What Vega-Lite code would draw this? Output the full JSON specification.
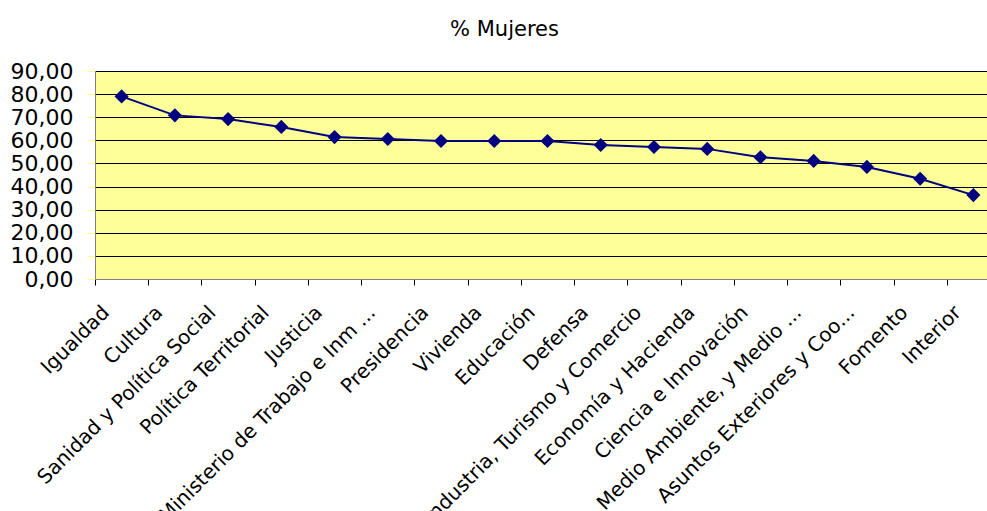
{
  "$schema": "https://vega.github.io/schema/vega-lite/v6.json",
  "autosize": {"type": "none"},
  "padding": {"left": 95, "top": 71, "right": 0, "bottom": 232},
  "width": 893,
  "height": 208,
  "background": "white",
  "title": {
    "text": "% Mujeres",
    "font": "DejaVu Sans",
    "fontSize": 21,
    "fontWeight": "normal",
    "color": "black",
    "anchor": "middle",
    "baseline": "alphabetic",
    "offset": 3,
    "dx": -37
  },
  "config": {
    "view": {"fill": "#FFFF99", "stroke": "#808080", "strokeWidth": 1},
    "axis": {"labelFont": "DejaVu Sans", "labelColor": "black"}
  },
  "data": {
    "values": [
      {"ministerio": "Igualdad", "pct": 79.0},
      {"ministerio": "Cultura", "pct": 70.8},
      {"ministerio": "Sanidad y Política Social", "pct": 69.2},
      {"ministerio": "Política Territorial", "pct": 65.8},
      {"ministerio": "Justicia", "pct": 61.4},
      {"ministerio": "Ministerio de Trabajo e Inm ...", "pct": 60.6},
      {"ministerio": "Presidencia", "pct": 59.7},
      {"ministerio": "Vivienda", "pct": 59.7},
      {"ministerio": "Educación", "pct": 59.7},
      {"ministerio": "Defensa", "pct": 58.0},
      {"ministerio": "Industria, Turismo y Comercio", "pct": 57.1},
      {"ministerio": "Economía y Hacienda", "pct": 56.3},
      {"ministerio": "Ciencia e Innovación", "pct": 52.7},
      {"ministerio": "Medio Ambiente, y Medio ...", "pct": 51.1},
      {"ministerio": "Asuntos Exteriores y Coo...", "pct": 48.5},
      {"ministerio": "Fomento", "pct": 43.4},
      {"ministerio": "Interior", "pct": 36.3}
    ]
  },
  "encoding": {
    "x": {
      "field": "ministerio",
      "type": "nominal",
      "sort": null,
      "scale": {"type": "band", "range": [0, 905], "paddingInner": 0, "paddingOuter": 0},
      "axis": {
        "title": null,
        "labelAngle": -45,
        "labelAlign": "right",
        "labelBaseline": "middle",
        "labelFontSize": 20,
        "labelPadding": 24,
        "labelOffset": -16,
        "labelLimit": 0,
        "tickBand": "extent",
        "tickSize": 6,
        "tickColor": "black",
        "domainColor": "#808080",
        "grid": false,
        "labelOverlap": false
      }
    },
    "y": {
      "field": "pct",
      "type": "quantitative",
      "scale": {"domain": [0, 90], "nice": false, "zero": true},
      "axis": {
        "title": null,
        "values": [0, 10, 20, 30, 40, 50, 60, 70, 80, 90],
        "labelExpr": "replace(format(datum.value, '.2f'), '.', ',')",
        "labelFontSize": 22,
        "labelPadding": 14,
        "labelOverlap": false,
        "labelFlush": false,
        "tickSize": 8,
        "tickColor": "#FFFF80",
        "domainColor": "#808080",
        "grid": true,
        "gridColor": "black",
        "gridOpacity": 1,
        "gridWidth": 1
      }
    }
  },
  "layer": [
    {"mark": {"type": "line", "color": "#000080", "strokeWidth": 2}},
    {"mark": {"type": "point", "shape": "diamond", "filled": true, "size": 200, "color": "#000080", "opacity": 1}}
  ]
}
